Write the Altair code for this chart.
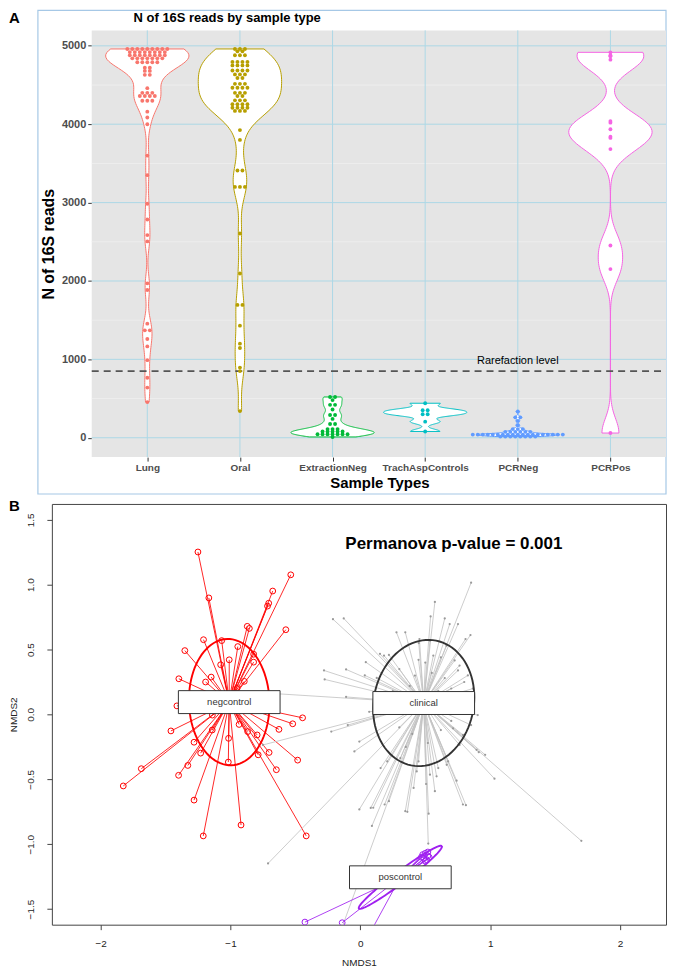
import json
import pandas as pd
import altair as alt

# ======================= Panel A data =======================
categories = ["Lung", "Oral", "ExtractionNeg", "TrachAspControls", "PCRNeg", "PCRPos"]
cat_colors = ["#F8766D", "#B79F00", "#00BA38", "#00BFC4", "#619CFF", "#F564E3"]

lung_reads = [4960, 4960, 4960, 4960, 4960, 4960, 4960, 4960, 4960,
              4920, 4920, 4920, 4920, 4920, 4920, 4920, 4920,
              4880, 4880, 4880, 4880, 4880, 4880, 4880, 4880,
              4840, 4840, 4840, 4840, 4840, 4840, 4840,
              4790, 4790, 4790, 4790, 4790,
              4720, 4720, 4680, 4680, 4630, 4630,
              4460, 4400, 4400, 4400, 4360, 4360, 4360, 4360, 4300, 4300, 4300,
              4160, 4085, 4000, 3600, 3350, 2985, 2785, 2585, 2505, 1970, 1885,
              1455, 1370, 1370, 1260, 1165, 990, 765, 640, 455]
oral_reads = [4960, 4960, 4960, 4930, 4930, 4880, 4880, 4880,
              4795, 4795, 4795, 4795, 4750, 4750, 4750, 4750,
              4685, 4685, 4685, 4685, 4635, 4635, 4635, 4590, 4590,
              4515, 4515, 4515, 4465, 4465, 4465, 4465, 4400, 4400, 4400,
              4360, 4360, 4305, 4305, 4305, 4255, 4255, 4255, 4255,
              4210, 4210, 4210, 4210, 4170, 4170, 4170,
              3925, 3800, 3410, 3410, 3200, 3200, 3200, 2605, 2095,
              1695, 1695, 1430, 1200, 1145, 895, 850, 340]
extraction_reads = [520, 520, 480, 420, 420, 360, 290, 290, 240, 175, 175,
                    110, 110, 110, 80, 80, 80, 80, 80,
                    45, 45, 45, 45, 45, 45, 45, 10]
trach_reads = [440, 350, 350, 300, 300, 205, 80]
pcrneg_reads = [335, 260, 260, 215, 160, 110, 110, 110,
                75, 75, 75, 75, 75, 75,
                40, 40, 40, 40, 40, 40, 40, 40, 40, 40, 40, 40, 40, 40, 40, 40, 40, 40, 40,
                15, 15, 15, 15, 15, 15, 15, 15]
pcrpos_reads = [4917, 4880, 4866, 4824, 4040, 4020, 3936, 3840, 3825, 3683, 2452, 2152, 60]

reads_by_cat = [lung_reads, oral_reads, extraction_reads, trach_reads, pcrneg_reads, pcrpos_reads]
violin_bw = [150, 190, 42, 30, 14, 185]      # kernel bandwidths (reads)
rarefaction = 850
rarefaction_label = ["Rarefaction level"]
rarefaction_label_pos = [5, 985]
y_major_a = [0, 1000, 2000, 3000, 4000, 5000]
y_minor_a = [500, 1500, 2500, 3500, 4500]
x_ticks_a = [1, 2, 3, 4, 5, 6]
panel_x_a = [0.4, 6.6]          # grey panel extent (category units)
panel_y_a = [-247, 5197]        # grey panel extent (reads)

# ======================= Panel B data =======================
groups = ["negcontrol", "clinical", "poscontrol"]
group_colors = ["#FF0000", "#C4C4C4", "#A020F0"]
centroid_x = [-1.01, 0.488, 0.308]
centroid_y = [0.095, 0.088, -1.255]
ellipse_a = [0.487, 0.49, 0.40]
ellipse_b = [0.31, 0.385, 0.045]
ellipse_angle = [92, 78.7, 37]
ellipse_colors = ["#FF0000", "#333333", "#A020F0"]

neg_x = [-1.251, -0.536, -0.675, -1.167, -0.706, -0.715, -0.574, -0.871, -0.855, -1.208,
         -1.068, -1.352, -0.944, -1.01, -0.822, -0.822, -1.076, -1.398, -1.149, -1.192,
         -0.894, -1.413, -1.459, -0.445, -0.521, -0.627, -0.703, -0.483, -0.647, -0.787,
         -0.934, -1.141, -1.015, -1.281, -1.230, -1.017, -1.329, -1.40, -1.687, -1.826,
         -1.281, -0.919, -1.21, -0.417, -0.868, -0.795, -1.14, -0.95, -1.05]
neg_y = [1.252, 1.076, 0.951, 0.898, 0.857, 0.835, 0.653, 0.679, 0.663, 0.576,
         0.569, 0.492, 0.523, 0.421, 0.464, 0.403, 0.383, 0.275, 0.288, 0.250,
         0.255, 0.066, -0.127, -0.026, -0.072, -0.115, -0.293, -0.352, -0.426, -0.311,
         -0.077, -0.120, -0.184, -0.214, -0.298, -0.367, -0.393, -0.469, -0.418, -0.551,
         -0.66, -0.852, -0.936, -0.936, -0.132, -0.158, -0.005, 0.20, 0.15]

clin_x = [0.853, 0.574, 0.541, 0.650, 0.688, 0.752, 0.848, 0.810, 0.278, 0.346,
          -0.211, -0.128, 0.151, 0.220, 0.042, -0.280, -0.110, 0.034, 0.126, -0.275,
          0.448, 0.764, 0.828, 0.663, 0.536, 0.726, 0.752, 0.182, 0.562, 0.455,
          -0.65, -0.75, -0.224, -0.008, -0.11, -0.097, 0.068,
          0.836, 0.904, 0.815, 0.866, 0.853, 0.912, 0.961, 1.033, 1.702,
          0.346, 0.506, 0.790, 0.08, -0.008, 0.587, 0.676, 0.60, 0.448, 0.308,
          0.207, 0.156, 0.41, 0.574, 0.536, 0.22, -0.046, 0.764, 0.79, 0.714,
          0.523, 0.099, 0.089, 0.187, 0.362, 0.526, 0.813, 0.741, 0.434, 0.665,
          0.895, -0.711, -0.17,
          0.30, 0.42, 0.55, 0.65, 0.70, 0.60, 0.38, 0.25, 0.20, 0.75,
          0.70, 0.62, 0.40, 0.30, 0.52, 0.35, 0.80, 0.45, 0.62, 0.50]
clin_y = [1.015, 0.867, 0.755, 0.740, 0.696, 0.696, 0.612, 0.581, 0.633, 0.633,
          0.734, 0.740, 0.467, 0.459, 0.403, 0.339, 0.347, 0.301, 0.281, 0.270,
          0.421, 0.377, 0.301, 0.530, 0.568, 0.416, 0.339, 0.454, 0.454, 0.581,
          0.16, -0.235, -0.132, -0.209, 0.135, -0.082, 0.02,
          0.033, -0.005, 0.135, 0.199, -0.082, -0.291, -0.311, -0.495, -0.974,
          -0.745, -0.536, -0.694, -0.72, -0.732, -0.477, -0.362, -0.413, -0.362, -0.337,
          -0.362, -0.413, -0.566, -0.591, -0.464, -0.668, -0.285, -0.235, -0.158, -0.107,
          -0.995, -0.719, -0.859, -0.694, -0.75, -0.765, -0.699, -0.51, -0.439, -0.388,
          -0.273, -1.148, -1.72,
          0.35, 0.30, 0.32, 0.28, 0.20, 0.18, 0.22, 0.18, 0.05, 0.10,
          -0.05, -0.12, -0.15, -0.10, -0.22, -0.25, 0.25, 0.55, 0.44, 0.40]

pos_x = [0.48, 0.50, 0.52, 0.49, 0.51, 0.53, 0.47, 0.50, 0.52, -0.427, -0.14, 0.0]
pos_y = [-1.08, -1.07, -1.09, -1.11, -1.12, -1.10, -1.10, -1.13, -1.06, -1.60, -1.605, -1.82]

permanova_text = ["Permanova p-value = 0.001"]
permanova_pos = [0.72, 1.316]
x_ticks_b = [-2, -1, 0, 1, 2]
y_ticks_b = [-1.5, -1.0, -0.5, 0.0, 0.5, 1.0, 1.5]

FONT = "Liberation Sans"

# ======================= Panel A chart =======================
rows = []
for i, (cat, vals) in enumerate(zip(categories, reads_by_cat)):
    for v in vals:
        rows.append({"cat": cat, "pos": i + 1, "reads": v, "col": cat_colors[i]})
reads_df = pd.DataFrame(rows)

W_A, H_A = 616, 428
LEFT_PAD = 40   # pixels between shared left edge and the grey panel
unit = W_A / (panel_x_a[1] - panel_x_a[0] + LEFT_PAD / 93.2)
x_lo = panel_x_a[0] - LEFT_PAD / unit
xs_a = alt.Scale(domain=[x_lo, panel_x_a[1]], nice=False, zero=False)
ys_a = alt.Scale(domain=panel_y_a, nice=False, zero=False)
ax_ax = alt.Axis(values=x_ticks_a, labelExpr=f"{json.dumps(categories)}[datum.value - 1]",
                 title=None, labelFontSize=10, labelFontWeight="bold", labelColor="#4d4d4d",
                 tickColor="#333333", tickSize=4, domain=False, grid=False, labelPadding=1)
ax_ay = alt.Axis(values=y_major_a, format="d", offset=-LEFT_PAD,
                 title="N of 16S reads", titleFontSize=16, titleFontWeight="bold", titleColor="black",
                 labelFontSize=11, labelFontWeight="bold", labelColor="#4d4d4d",
                 tickColor="#333333", tickSize=4, domain=False, grid=False,
                 labelPadding=2, titlePadding=5)

X = lambda f: alt.X(f, scale=xs_a, axis=ax_ax)
Y = lambda f: alt.Y(f, scale=ys_a, axis=ax_ay)

frame = alt.Chart(pd.DataFrame({"k": [0]})).mark_rect(
    fill=None, stroke="#a6c8e6", strokeWidth=1.2
).encode(x=alt.value(-14), x2=alt.value(W_A), y=alt.value(-20), y2=alt.value(465))

panel = alt.Chart(pd.DataFrame({"x1": [panel_x_a[0]], "x2": [panel_x_a[1]],
                                "y1": [panel_y_a[0]], "y2": [panel_y_a[1]]})).mark_rect(
    fill="#e5e5e5", stroke=None
).encode(x=X("x1:Q"), x2="x2:Q", y=Y("y1:Q"), y2="y2:Q")

grid_minor = alt.Chart(pd.DataFrame({"y": y_minor_a})).mark_rule(
    color="#f4f4f4", strokeWidth=0.6
).encode(y=Y("y:Q"), x=X("x1:Q"), x2="x2:Q").transform_calculate(
    x1=str(panel_x_a[0]), x2=str(panel_x_a[1]))
grid_major = alt.Chart(pd.DataFrame({"y": y_major_a})).mark_rule(
    color="#add8e6", strokeWidth=1
).encode(y=Y("y:Q"), x=X("x1:Q"), x2="x2:Q").transform_calculate(
    x1=str(panel_x_a[0]), x2=str(panel_x_a[1]))
grid_vert = alt.Chart(pd.DataFrame({"x": x_ticks_a})).mark_rule(
    color="#add8e6", strokeWidth=1
).encode(x=X("x:Q"), y=Y("y1:Q"), y2="y2:Q").transform_calculate(
    y1=str(panel_y_a[0]), y2=str(panel_y_a[1]))

violins = []
for i, (cat, vals) in enumerate(zip(categories, reads_by_cat)):
    v = alt.Chart(reads_df).transform_filter(
        alt.datum.cat == cat
    ).transform_density(
        "reads", as_=["reads", "density"], bandwidth=violin_bw[i],
        extent=[min(vals), max(vals)], steps=200
    ).transform_joinaggregate(
        dmax="max(density)"
    ).transform_calculate(
        xl=f"{i + 1} - 0.45 * datum.density / datum.dmax",
        xr=f"{i + 1} + 0.45 * datum.density / datum.dmax",
    ).mark_area(
        orient="horizontal", fill="white", fillOpacity=1, stroke=cat_colors[i], strokeWidth=1
    ).encode(y=Y("reads:Q"), x=X("xl:Q"), x2="xr:Q")
    violins.append(v)

rare_rule = alt.Chart(pd.DataFrame({"y": [rarefaction], "x1": [panel_x_a[0]],
                                    "x2": [panel_x_a[1]]})).mark_rule(
    color="#555555", strokeDash=[7, 5], strokeWidth=1.6
).encode(y=Y("y:Q"), x=X("x1:Q"), x2="x2:Q")

rare_text = alt.Chart(pd.DataFrame({"x": [rarefaction_label_pos[0]], "y": [rarefaction_label_pos[1]],
                                    "t": rarefaction_label})).mark_text(
    fontSize=11, color="black", baseline="middle", align="center"
).encode(x=X("x:Q"), y=Y("y:Q"), text="t:N")

dots = alt.Chart(reads_df).transform_window(
    rn="row_number()", groupby=["cat", "reads"]
).transform_joinaggregate(
    cnt="count()", groupby=["cat", "reads"]
).transform_calculate(
    xdot="datum.pos + (datum.rn - (datum.cnt + 1) / 2) * 0.054"
).mark_circle(size=15, opacity=1).encode(
    x=X("xdot:Q"), y=Y("reads:Q"), color=alt.Color("col:N", scale=None),
)

def label(text, x, y, size, weight="bold", align="left"):
    return alt.Chart(pd.DataFrame({"t": [text]})).mark_text(
        align=align, baseline="middle", fontSize=size, fontWeight=weight, color="black"
    ).encode(text="t:N", x=alt.value(x), y=alt.value(y))

title_a = label("N of 16S reads by sample type", 82, -12, 13)
letter_a = label("A", -43, -12, 15)
xtitle_a = label("Sample Types", 329, 454, 15, align="center")

panel_a = alt.layer(frame, panel, grid_minor, grid_major, grid_vert, *violins, rare_rule, dots,
                    rare_text, title_a, letter_a, xtitle_a).properties(
    width=W_A, height=H_A, view=alt.ViewBackground(fill=None, stroke=None)
)

# ======================= Panel B chart =======================
cent = {g: (cx, cy) for g, cx, cy in zip(groups, centroid_x, centroid_y)}
gcol = dict(zip(groups, group_colors))
prow = []
for g, xs, ys in [("negcontrol", neg_x, neg_y), ("clinical", clin_x, clin_y), ("poscontrol", pos_x, pos_y)]:
    for px, py in zip(xs, ys):
        prow.append({"group": g, "px": px, "py": py, "cx": cent[g][0], "cy": cent[g][1],
                     "lcol": gcol[g]})
pts_df = pd.DataFrame(prow)

W_B, H_B = 616, 422
xs_b = alt.Scale(domain=[-2.376, 2.354], nice=False, zero=False)
ys_b = alt.Scale(domain=[-1.62, 1.622], nice=False, zero=False)
ax_bx = alt.Axis(values=x_ticks_b, format="d", title="NMDS1", domain=False, grid=False,
                 tickSize=5, tickColor="#444444", labelFontSize=10, labelColor="#222222",
                 labelPadding=9, titleFontSize=10, titleFontWeight="normal", titleColor="#222222",
                 titlePadding=9)
ax_by = alt.Axis(values=y_ticks_b, format=".1f", title="NMDS2", domain=False, grid=False,
                 tickSize=5, tickColor="#444444", labelFontSize=10, labelColor="#222222",
                 labelAngle=270, labelAlign="center", labelBaseline="bottom",
                 labelPadding=11, titleFontSize=10, titleFontWeight="normal", titleColor="#222222",
                 titlePadding=7)
XB = lambda f: alt.X(f, scale=xs_b, axis=ax_bx)
YB = lambda f: alt.Y(f, scale=ys_b, axis=ax_by)

spider = alt.Chart(pts_df).mark_rule(clip=True, strokeWidth=0.85).encode(
    x=XB("cx:Q"), y=YB("cy:Q"), x2="px:Q", y2="py:Q", color=alt.Color("lcol:N", scale=None),
)
clin_pts = alt.Chart(pts_df).transform_filter(alt.datum.group == "clinical").mark_circle(
    size=5, color="#9a9a9a", opacity=1, clip=True
).encode(x=XB("px:Q"), y=YB("py:Q"))
ring_pts = alt.Chart(pts_df).transform_filter(alt.datum.group != "clinical").mark_point(
    shape="circle", filled=False, size=34, strokeWidth=1, opacity=1, clip=True
).encode(x=XB("px:Q"), y=YB("py:Q"), color=alt.Color("lcol:N", scale=None))

ell_df = pd.DataFrame({"group": groups, "ecx": centroid_x, "ecy": centroid_y,
                       "ea": ellipse_a, "eb": ellipse_b, "eang": ellipse_angle,
                       "ecol": ellipse_colors})
ellipses = alt.Chart(ell_df).transform_calculate(
    t="sequence(0, 364, 4)"
).transform_flatten(["t"]).transform_calculate(
    rad="datum.t * PI / 180", ang="datum.eang * PI / 180"
).transform_calculate(
    ex="datum.ecx + datum.ea * cos(datum.rad) * cos(datum.ang) - datum.eb * sin(datum.rad) * sin(datum.ang)",
    ey="datum.ecy + datum.ea * cos(datum.rad) * sin(datum.ang) + datum.eb * sin(datum.rad) * cos(datum.ang)",
).mark_line(strokeWidth=1.9, clip=True).encode(
    x=XB("ex:Q"), y=YB("ey:Q"), detail="group:N", order="t:Q", color=alt.Color("ecol:N", scale=None),
)

lab_df = pd.DataFrame({"group": groups, "cx": centroid_x, "cy": centroid_y})
lab_box = alt.Chart(lab_df).mark_rect(width=102, height=23, fill="white", stroke="#333333",
                                      strokeWidth=1).encode(x=XB("cx:Q"), y=YB("cy:Q"))
lab_txt = alt.Chart(lab_df).mark_text(fontSize=9.5, color="#333333", baseline="middle").encode(
    x=XB("cx:Q"), y=YB("cy:Q"), text="group:N")

perm = alt.Chart(pd.DataFrame({"x": [permanova_pos[0]], "y": [permanova_pos[1]], "t": permanova_text})).mark_text(
    fontSize=17, fontWeight="bold", color="black", baseline="middle"
).encode(x=XB("x:Q"), y=YB("y:Q"), text="t:N")

letter_b = label("B", -43, 2, 15)

panel_b = alt.layer(spider, clin_pts, ring_pts, ellipses, lab_box, lab_txt, perm, letter_b).properties(
    width=W_B, height=H_B, view=alt.ViewBackground(fill="white", stroke="#444444", strokeWidth=1)
)

chart = alt.vconcat(panel_a, panel_b, spacing=3).properties(
    padding=0
).configure(font=FONT, background="white")

chart.save("out.html", embed_options={"renderer": "svg", "actions": False})
